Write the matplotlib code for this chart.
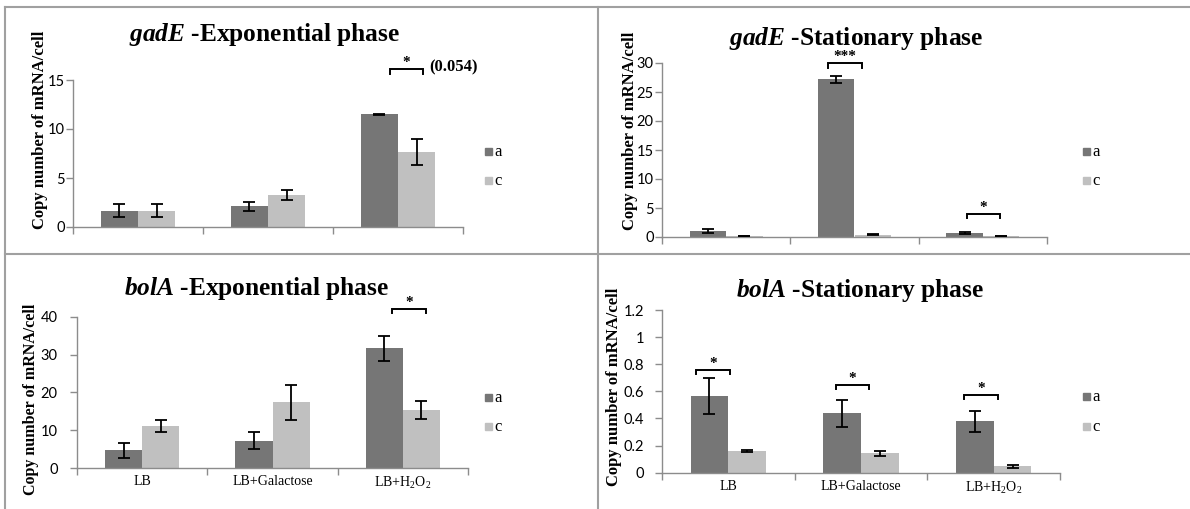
import matplotlib
matplotlib.use("Agg")
import matplotlib.pyplot as plt
from matplotlib.lines import Line2D
import numpy as np

plt.rcParams['mathtext.fontset'] = 'custom'
plt.rcParams['mathtext.rm'] = 'Liberation Serif'
plt.rcParams['mathtext.it'] = 'Liberation Serif:italic:bold'
plt.rcParams['mathtext.bf'] = 'Liberation Serif:bold'

categories = ['LB', 'LB+Galactose', r'LB+H$_2$O$_2$']
series = ['a', 'c']

# gadE, exponential phase
gadE_exp_a = [1.65, 2.1, 11.5]
gadE_exp_a_err = [0.65, 0.45, 0.05]
gadE_exp_c = [1.65, 3.25, 7.65]
gadE_exp_c_err = [0.65, 0.5, 1.35]

# gadE, stationary phase
gadE_sta_a = [1.0, 27.2, 0.75]
gadE_sta_a_err = [0.3, 0.6, 0.15]
gadE_sta_c = [0.2, 0.4, 0.15]
gadE_sta_c_err = [0.05, 0.05, 0.05]

# bolA, exponential phase
bolA_exp_a = [4.7, 7.2, 31.7]
bolA_exp_a_err = [1.95, 2.2, 3.3]
bolA_exp_c = [11.0, 17.4, 15.3]
bolA_exp_c_err = [1.6, 4.6, 2.3]

# bolA, stationary phase
bolA_sta_a = [0.565, 0.437, 0.378]
bolA_sta_a_err = [0.13, 0.1, 0.08]
bolA_sta_c = [0.163, 0.142, 0.046]
bolA_sta_c_err = [0.008, 0.02, 0.012]

W, H = 1190, 509
DARK = '#767676'
LIGHT = '#c0c0c0'
AXIS = '#8c8c8c'
SERIF = 'Liberation Serif'
SANS = 'Lato'

fig = plt.figure(figsize=(W / 100, H / 100), dpi=100)


def px_axes(x0, x1, ytop, ybot):
    return fig.add_axes([x0 / W, 1 - ybot / H, (x1 - x0) / W, (ybot - ytop) / H])


def bracket(ax, x0, x1, y, h, label, fs=11):
    ax.plot([x0, x0, x1, x1], [y - h, y, y, y - h], color='black', lw=1.4,
            clip_on=False, solid_joinstyle='miter')
    ax.text((x0 + x1) / 2, y, label, ha='center', va='bottom', fontsize=fs,
            family=SERIF, fontweight='bold', clip_on=False)


def panel(ax, a, a_err, c, c_err, ymax, step, fmt, xlabels, ypad):
    x = np.arange(len(categories))
    w = 0.285
    ax.bar(x - w / 2, a, w, color=DARK, zorder=2)
    ax.bar(x + w / 2, c, w, color=LIGHT, zorder=2)
    ekw = dict(fmt='none', ecolor='black', elinewidth=1.3, capsize=4, capthick=1.3, zorder=3)
    ax.errorbar(x - w / 2, a, yerr=a_err, **ekw)
    ax.errorbar(x + w / 2, c, yerr=c_err, **ekw)
    ax.set_xlim(-0.5, len(categories) - 0.5)
    ax.set_ylim(0, ymax)
    ticks = np.arange(0, ymax + step / 2, step)
    ax.set_yticks(ticks)
    ax.set_yticklabels([fmt(t) for t in ticks], family=SANS, fontsize=10.5)
    ax.set_xticks(np.arange(-0.5, len(categories), 1.0))
    ax.set_xticklabels([])
    ax.set_xticks(x, minor=True)
    if xlabels:
        ax.set_xticklabels(categories, minor=True, family=SERIF, fontsize=10)
    ax.tick_params(axis='x', which='minor', length=0, pad=5)
    ax.tick_params(axis='x', which='major', length=5, color=AXIS, width=1)
    ax.tick_params(axis='y', length=5, color=AXIS, width=1, pad=ypad)
    for s in ('top', 'right'):
        ax.spines[s].set_visible(False)
    for s in ('left', 'bottom'):
        ax.spines[s].set_color(AXIS)
        ax.spines[s].set_linewidth(1)
    ax.patch.set_alpha(0)


def title(xc, yc, gene, phase):
    fig.text(xc / W, 1 - yc / H, r'$\mathit{%s}$ -%s' % (gene, phase), ha='center',
             va='center', family=SERIF, fontweight='bold', fontsize=18.3)


def ylab(xc, yc, fs=12):
    fig.text(xc / W, 1 - yc / H, 'Copy number of mRNA/cell', rotation=90, ha='center',
             va='center', family=SERIF, fontweight='bold', fontsize=fs)


def legend(x, ya, yc):
    for yy, col, lab in ((ya, DARK, 'a'), (yc, LIGHT, 'c')):
        fig.patches.append(plt.Rectangle(((x - 4) / W, 1 - (yy + 4) / H), 7 / W, 7 / H,
                                         transform=fig.transFigure, color=col))
        fig.text((x + 5) / W, 1 - (yy + 1) / H, lab, ha='left', va='center',
                 family=SERIF, fontsize=12)


int_fmt = lambda t: '%d' % t
def dec_fmt(t):
    s = ('%.1f' % t)
    return s[:-2] if s.endswith('.0') else s

# panel frame lines
for seg in (((5, 5), (7, H)), ((5, W), (7, 7)), ((598, 598), (7, H)), ((5, W), (254, 254))):
    fig.add_artist(Line2D([seg[0][0] / W, seg[0][1] / W], [1 - seg[1][0] / H, 1 - seg[1][1] / H],
                          transform=fig.transFigure, color='#a0a0a0', lw=1.5))

# gadE exponential
ax1 = px_axes(73, 463, 80, 227)
panel(ax1, gadE_exp_a, gadE_exp_a_err, gadE_exp_c, gadE_exp_c_err, 15, 5, int_fmt, False, 1)
bracket(ax1, 1.94, 2.19, 16.1, 0.5, '*')
ax1.text(2.24, 16.3, '(0.054)', ha='left', va='center', family=SERIF, fontweight='bold',
         fontsize=12, clip_on=False)
title(265, 35, 'gadE', 'Exponential phase')
ylab(40, 130)
legend(489, 151, 180)

# gadE stationary
ax2 = px_axes(662, 1047, 63, 237)
panel(ax2, gadE_sta_a, gadE_sta_a_err, gadE_sta_c, gadE_sta_c_err, 30, 5, int_fmt, False, 1)
bracket(ax2, 0.79, 1.06, 30.0, 0.8, '***')
bracket(ax2, 1.88, 2.13, 4.0, 0.8, '*')
title(856, 38, 'gadE', 'Stationary phase')
ylab(630, 131)
legend(1087, 151, 180)

# bolA exponential
ax3 = px_axes(77, 468, 316.7, 468)
panel(ax3, bolA_exp_a, bolA_exp_a_err, bolA_exp_c, bolA_exp_c_err, 40, 10, int_fmt, True, 9)
bracket(ax3, 1.92, 2.18, 42.0, 0.9, '*')
title(257, 289, 'bolA', 'Exponential phase')
ylab(31, 399, 11.5)
legend(489, 397, 426)

# bolA stationary
ax4 = px_axes(662, 1060, 310, 472.7)
panel(ax4, bolA_sta_a, bolA_sta_a_err, bolA_sta_c, bolA_sta_c_err, 1.2, 0.2, dec_fmt, True, 8)
bracket(ax4, -0.24, 0.01, 0.757, 0.03, '*')
bracket(ax4, 0.81, 1.06, 0.647, 0.03, '*')
bracket(ax4, 1.78, 2.03, 0.573, 0.03, '*')
title(860, 290, 'bolA', 'Stationary phase')
ylab(614, 387)
legend(1087, 396, 426)

fig.savefig('out.png', dpi=100, facecolor='white')
